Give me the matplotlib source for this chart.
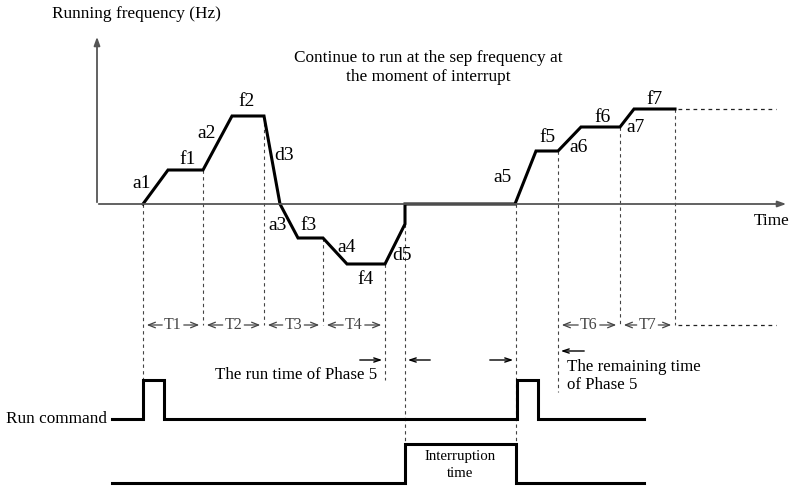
import matplotlib
matplotlib.use("Agg")
import matplotlib.pyplot as plt

plt.rcParams['font.family'] = ['Liberation Serif', 'DejaVu Serif']

# frequency profile (time, frequency), baseline frequency = 0
t_curve = [143, 168, 203, 232, 264, 280, 298, 323, 347, 385, 405, 405, 515, 536, 558, 581, 620, 634, 675]
f_curve = [0, 34, 34, 88, 88, 0, -34, -34, -60, -60, -20, 0, 0, 53, 53, 77, 77, 95, 95]

# phase labels
seg_labels = ['a1', 'f1', 'a2', 'f2', 'd3', 'a3', 'f3', 'a4', 'f4', 'd5',
              'a5', 'f5', 'a6', 'f6', 'a7', 'f7']
seg_lx = [142, 188, 207, 247, 284, 278, 309, 347, 366, 402, 503, 547, 579, 603, 636, 655]
seg_ly = [21, 45, 70, 102, 49, -21, -21, -43, -75, -51, 27, 66, 57, 87, 77, 104]

# time marks (x, top of dashed line, bottom of dashed line)
mark_x = [143, 203, 264, 323, 385, 405, 516, 558, 620, 675]
mark_top = [0, 34, 88, -34, -60, -20, 0, 53, 77, 95]
mark_bot = [-176, -121, -121, -121, -176, -240, -240, -188, -121, -121]

# T intervals
t_names = ['T1', 'T2', 'T3', 'T4', 'T6', 'T7']
t_start = [143, 203, 264, 323, 558, 620]
t_end = [203, 264, 323, 385, 620, 675]

# run command pulses and interruption
run_level = -215
pulse_start = [143, 517]
pulse_end = [164, 538]
pulse_h = 39
intr_level = -279
intr_start, intr_end, intr_h = 405, 516, 39

fig = plt.figure(figsize=(7.93, 4.86), dpi=100)
ax = fig.add_axes([0, 0, 1, 1])
ax.set_xlim(0, 793)
ax.set_ylim(-282, 204)
ax.axis('off')

# axes arrows
ax.annotate('', xy=(97, 170), xytext=(97, -1),
            arrowprops=dict(arrowstyle='-|>,head_width=0.18,head_length=0.5', color='#555555', lw=1.3))
ax.annotate('', xy=(789, 0), xytext=(96, 0),
            arrowprops=dict(arrowstyle='-|>,head_width=0.18,head_length=0.5', color='#555555', lw=1.3))
ax.text(136, 190, 'Running frequency (Hz)', fontsize=12.4, ha='center', va='center')
ax.text(790, -17, 'Time', fontsize=12.4, ha='right', va='center')
ax.text(428, 136, 'Continue to run at the sep frequency at\nthe moment of interrupt',
        fontsize=12.4, ha='center', va='center', linespacing=1.25)

# dashed marks
for x, y0, y1 in zip(mark_x, mark_top, mark_bot):
    ax.plot([x, x], [y0, y1], color='#444444', lw=0.8, ls=(0, (3, 3)))
ax.plot([678, 776], [95, 95], color='#222222', lw=0.9, ls=(0, (3, 3)))
ax.plot([678, 776], [-121, -121], color='#222222', lw=0.9, ls=(0, (3, 3)))

# curve
ax.plot(t_curve, f_curve, color='black', lw=2.2, solid_joinstyle='miter')
for s, x, y in zip(seg_labels, seg_lx, seg_ly):
    ax.text(x, y, s, fontsize=14, ha='center', va='center')

# T intervals
for n, a, b in zip(t_names, t_start, t_end):
    c = (a + b) / 2
    ax.text(c, -121, n, fontsize=11.5, color='#444444', ha='center', va='center')
    for tip, tail in ((a + 1, c - 8), (b - 1, c + 8)):
        ax.annotate('', xy=(tip, -121), xytext=(tail, -121),
                    arrowprops=dict(arrowstyle='->,head_width=0.2,head_length=0.5',
                                    color='#444444', lw=0.9))

# phase 5 arrows
arr = dict(arrowstyle='->,head_width=0.15,head_length=0.45', color='black', lw=1.0)
ax.annotate('', xy=(385, -156), xytext=(357, -156), arrowprops=arr)
ax.annotate('', xy=(405, -156), xytext=(433, -156), arrowprops=arr)
ax.annotate('', xy=(516, -156), xytext=(487, -156), arrowprops=arr)
ax.annotate('', xy=(558, -147), xytext=(587, -147), arrowprops=arr)
ax.text(377, -171, 'The run time of Phase 5', fontsize=12.2, ha='right', va='center')
ax.text(567, -172, 'The remaining time\nof Phase 5', fontsize=12.2, ha='left', va='center',
        linespacing=1.15)

# run command
rx, ry = [112], [run_level]
for a, b in zip(pulse_start, pulse_end):
    rx += [a, a, b, b]
    ry += [run_level, run_level + pulse_h, run_level + pulse_h, run_level]
rx.append(644)
ry.append(run_level)
ax.plot(rx, ry, color='black', lw=2.2, solid_joinstyle='miter')
ax.text(107, run_level, 'Run command', fontsize=12.4, ha='right', va='center')

# interruption
ax.plot([112, intr_start, intr_start, intr_end, intr_end, 644],
        [intr_level, intr_level, intr_level + intr_h, intr_level + intr_h, intr_level, intr_level],
        color='black', lw=2.2, solid_joinstyle='miter')
ax.text((intr_start + intr_end) / 2, intr_level + 18, 'Interruption\ntime', fontsize=10.7,
        ha='center', va='center', linespacing=1.35)

fig.savefig('out.png', dpi=100)
